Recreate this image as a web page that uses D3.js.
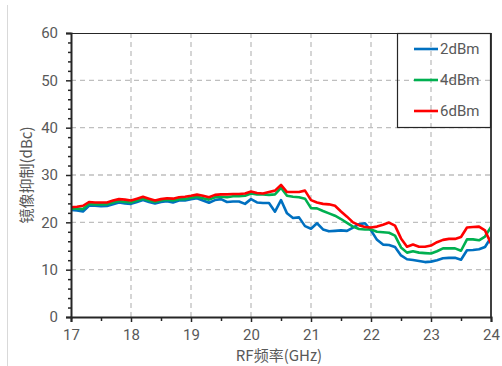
<!DOCTYPE html>
<html>
<head>
<meta charset="utf-8">
<script src="https://cdn.jsdelivr.net/npm/d3@7"></script>
<style>
  html, body { margin: 0; padding: 0; background: #fff; }
  svg { display: block; }
  text { font-family: "Noto Sans CJK SC", "Noto Sans", sans-serif; fill: #595959; }
</style>
</head>
<body>
<svg id="chart" width="502" height="366"></svg>
<script>
// RF frequency (GHz)
const freq = [17.0,17.1,17.2,17.3,17.4,17.5,17.6,17.7,17.8,17.9,
  18.0,18.1,18.2,18.3,18.4,18.5,18.6,18.7,18.8,18.9,
  19.0,19.1,19.2,19.3,19.4,19.5,19.6,19.7,19.8,19.9,
  20.0,20.1,20.2,20.3,20.4,20.5,20.6,20.7,20.8,20.9,
  21.0,21.1,21.2,21.3,21.4,21.5,21.6,21.7,21.8,21.9,
  22.0,22.1,22.2,22.3,22.4,22.5,22.6,22.7,22.8,22.9,
  23.0,23.1,23.2,23.3,23.4,23.5,23.6,23.7,23.8,23.9,24.0];

// Image rejection (dBc) per LO drive level
const rej2dBm = [22.6,22.5,22.3,23.5,23.5,23.4,23.45,23.8,24.2,24.0,
  23.9,24.3,24.7,24.3,24.0,24.3,24.45,24.2,24.6,24.6,
  24.9,25.1,24.6,24.15,24.7,24.9,24.3,24.4,24.4,23.9,
  24.9,24.2,24.1,24.1,22.25,24.7,21.9,20.9,21.05,19.2,
  18.65,19.8,18.5,18.1,18.2,18.3,18.2,18.9,19.6,19.8,
  18.3,16.3,15.3,15.2,14.8,13.0,12.2,12.05,11.85,11.6,
  11.7,12.0,12.4,12.5,12.5,12.1,14.1,14.15,14.3,14.8,16.8];

const rej4dBm = [22.9,22.9,22.8,23.9,23.8,23.8,23.8,24.2,24.5,24.3,
  24.2,24.6,25.0,24.6,24.3,24.6,24.8,24.6,24.9,24.9,
  25.2,25.4,25.1,24.8,25.3,25.4,25.3,25.5,25.5,25.6,
  26.1,25.9,25.9,25.8,25.9,27.3,25.6,25.4,25.3,25.0,
  23.0,22.95,22.4,21.9,21.4,20.7,19.9,19.1,18.6,18.5,
  18.5,18.0,17.9,17.8,17.2,14.7,13.6,13.9,13.6,13.5,
  13.4,13.9,14.5,14.5,14.5,14.0,16.4,16.4,16.2,17.0,19.0];

const rej6dBm = [23.2,23.3,23.5,24.3,24.2,24.2,24.2,24.6,24.9,24.8,
  24.6,25.0,25.4,25.0,24.6,24.9,25.1,25.0,25.3,25.4,
  25.6,25.85,25.6,25.3,25.8,25.9,25.9,26.0,26.0,26.1,
  26.5,26.2,26.1,26.4,26.7,27.9,26.4,26.4,26.4,26.7,
  24.7,24.2,23.9,23.8,23.5,22.3,21.2,20.0,19.4,19.0,
  18.9,19.1,19.5,19.95,19.3,16.6,14.85,15.3,14.85,14.85,
  15.1,15.8,16.3,16.5,16.5,16.9,18.9,19.0,19.1,18.3,15.5];

const seriesNames = ["2dBm", "4dBm", "6dBm"];
const seriesColors = ["#0070C0", "#00B050", "#FF0000"];
const seriesValues = [rej2dBm, rej4dBm, rej6dBm];

const xTicks = [17, 18, 19, 20, 21, 22, 23, 24];
const yTicks = [0, 10, 20, 30, 40, 50, 60];
const xTitle = "RF频率(GHz)";
const yTitle = "镜像抑制(dBc)";

const svg = d3.select("#chart");
const plot = { left: 71, right: 491, top: 33, bottom: 317 };

const x = d3.scaleLinear().domain([17, 24]).range([plot.left, plot.right]);
const y = d3.scaleLinear().domain([0, 60]).range([plot.bottom, plot.top]);

// outer chart-area edge
svg.append("line")
  .attr("x1", 7.5).attr("x2", 7.5).attr("y1", 5).attr("y2", 366)
  .attr("stroke", "#d9d9d9").attr("stroke-width", 1);

// dashed gridlines
const grid = svg.append("g").attr("stroke", "#bfbfbf").attr("stroke-width", 1.3)
  .attr("stroke-dasharray", "5,4");
grid.selectAll(".gx").data(xTicks.slice(1, -1)).join("line")
  .attr("x1", d => x(d)).attr("x2", d => x(d))
  .attr("y1", plot.top).attr("y2", plot.bottom);
grid.selectAll(".gy").data(yTicks.slice(1, -1)).join("line")
  .attr("x1", plot.left).attr("x2", plot.right)
  .attr("y1", d => y(d)).attr("y2", d => y(d));

// series lines
const line = d3.line().x((d, i) => x(freq[i])).y(d => y(d));
svg.append("g").selectAll("path").data(seriesValues).join("path")
  .attr("d", line)
  .attr("fill", "none")
  .attr("stroke", (d, i) => seriesColors[i])
  .attr("stroke-width", 2.6)
  .attr("stroke-linejoin", "round");

// frame
svg.append("line").attr("x1", plot.left).attr("x2", plot.right)
  .attr("y1", plot.top + 0.5).attr("y2", plot.top + 0.5)
  .attr("stroke", "#262626").attr("stroke-width", 1.2);
svg.append("line").attr("x1", plot.right).attr("x2", plot.right)
  .attr("y1", plot.top).attr("y2", plot.bottom)
  .attr("stroke", "#404040").attr("stroke-width", 2);

// x axis
const xAxis = d3.axisBottom(x).tickValues(xTicks).tickSize(5).tickPadding(7)
  .tickFormat(d3.format("d"));
const gx = svg.append("g").attr("transform", `translate(0,${plot.bottom})`).call(xAxis);
const xMinor = d3.axisBottom(x).tickValues([17.5,18.5,19.5,20.5,21.5,22.5,23.5])
  .tickSize(4).tickFormat("");
const gxm = svg.append("g").attr("transform", `translate(0,${plot.bottom})`).call(xMinor);
gxm.select(".domain").remove();

// y axis
const yAxis = d3.axisLeft(y).tickValues(yTicks).tickSize(5).tickPadding(8)
  .tickFormat(d3.format("d"));
const gy = svg.append("g").attr("transform", `translate(${plot.left},0)`).call(yAxis);
const yMinorVals = d3.range(0, 61, 2).filter(v => v % 10 !== 0);
const yMinor = d3.axisLeft(y).tickValues(yMinorVals).tickSize(3).tickFormat("");
const gym = svg.append("g").attr("transform", `translate(${plot.left},0)`).call(yMinor);
gym.select(".domain").remove();

[gx, gy, gxm, gym].forEach(g => {
  g.selectAll(".domain").attr("stroke", "#262626").attr("stroke-width", 2);
  g.selectAll(".tick line").attr("stroke", "#262626").attr("stroke-width", 1.5);
  g.selectAll(".tick text").attr("fill", "#606060")
    .style("font-family", "Roboto, 'Noto Sans', sans-serif").style("font-size", "15px");
});

// axis titles
svg.append("text").attr("x", (plot.left + plot.right) / 2 - 2).attr("y", 361)
  .attr("text-anchor", "middle").style("font-size", "15px").text(xTitle);
svg.append("text").attr("transform", `translate(32,175) rotate(-90)`)
  .attr("text-anchor", "middle").style("font-size", "15px").text(yTitle);

// legend
const legend = svg.append("g");
legend.append("rect").attr("x", 397.5).attr("y", 33.5).attr("width", 93).attr("height", 94)
  .attr("fill", "none").attr("stroke", "#262626").attr("stroke-width", 1.2);
const legendY = [49, 80, 111];
seriesNames.forEach((name, i) => {
  legend.append("line").attr("x1", 414).attr("x2", 438)
    .attr("y1", legendY[i]).attr("y2", legendY[i])
    .attr("stroke", seriesColors[i]).attr("stroke-width", 2.6);
  legend.append("text").attr("x", 440).attr("y", legendY[i] + 5)
    .style("font-size", "15px").style("font-family", "Roboto, 'Noto Sans', sans-serif")
    .attr("fill", "#404040").text(name);
});
</script>
</body>
</html>
